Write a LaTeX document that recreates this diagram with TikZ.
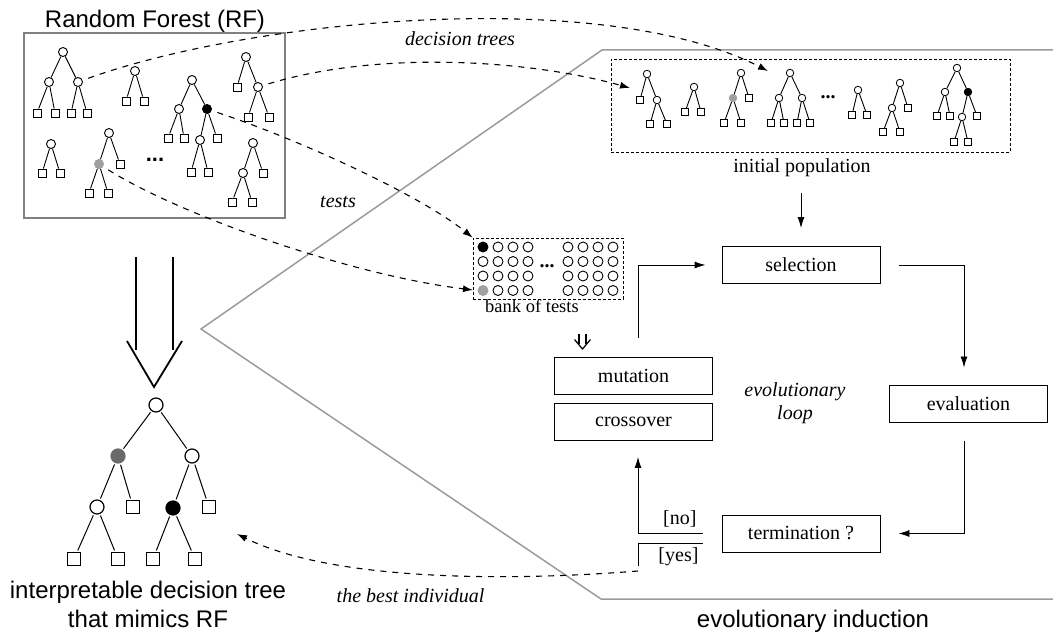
\documentclass[tikz,border=0pt]{standalone}
\usepackage{fontspec}
\setmainfont{Liberation Serif}
\newfontfamily\sansf{Liberation Sans}
\usetikzlibrary{arrows.meta}
\definecolor{lgray}{RGB}{160,160,160}
\definecolor{dgray}{RGB}{105,105,105}
\definecolor{framegray}{RGB}{128,128,128}
\definecolor{polygray}{RGB}{155,155,155}
\begin{document}
\begin{tikzpicture}[x=1pt,y=-1pt,
  rc/.style={circle,draw,fill=white,inner sep=0pt,minimum size=9pt,line width=0.9pt},
  rs/.style={rectangle,draw,fill=white,inner sep=0pt,minimum size=8pt,line width=0.9pt},
  pc/.style={rc,minimum size=7.5pt,line width=0.8pt},
  ps/.style={rs,minimum size=7pt,line width=0.8pt},
  bc/.style={circle,draw,fill=white,inner sep=0pt,minimum size=14pt,line width=1.2pt},
  bs/.style={rectangle,draw,fill=white,inner sep=0pt,minimum size=13pt,line width=1.2pt},
  tk/.style={circle,draw,fill=white,inner sep=0pt,minimum size=10pt,line width=0.9pt},
  tl/.style={line width=0.9pt},
  bl/.style={line width=1pt,shorten <=1.5pt,shorten >=1.5pt},
  box/.style={draw,line width=0.9pt,minimum width=158pt,minimum height=37pt,inner sep=0pt,font=\fontsize{20}{24}\selectfont},
  arr/.style={line width=0.9pt,-{Latex[length=11pt,width=7pt]}},
  dsh/.style={line width=1.1pt,dash pattern=on 6pt off 6pt,-{Latex[length=10pt,width=7pt]}},
  lab/.style={font=\fontsize{20}{24}\selectfont\itshape,anchor=base},
  txt/.style={font=\fontsize{20}{24}\selectfont,anchor=base},
  big/.style={font=\sansf\fontsize{24}{28}\selectfont,anchor=base},
  dbox/.style={draw,dash pattern=on 3pt off 2pt,line width=0.8pt,inner sep=0pt},
  sym/.style={line width=1.2pt},
]
\useasboundingbox (0,0) rectangle (1053,636);

% evolutionary induction region
\draw[polygray,line width=1.5pt] (1053,50) -- (602,50) -- (201,329) -- (601,599) -- (1053,599);

% frames
\node[draw=framegray,line width=1.5pt,minimum width=261pt,minimum height=185pt,inner sep=0pt] (rf) at (154.5,125.5) {};
\node[dbox,minimum width=399pt,minimum height=93pt] (pop) at (810.5,105.5) {};
\node[dbox,minimum width=150pt,minimum height=61pt] (bank) at (548,268.5) {};

% coordinates for free arrow ends
\coordinate (dtA) at (768,71);
\coordinate (dtB) at (630,88);
\coordinate (dtD) at (473,290);
\coordinate (dtE) at (237,534);
\coordinate (yesfoot) at (638,566);
\coordinate (loopst) at (638,338);
\coordinate (popar) at (801,193);

% ---------- Random forest trees ----------
\node[rc] (t1r) at (63,52) {};
\node[rc] (t1a) at (49,82) {};
\node[rc] (t1b) at (78,82) {};
\node[rs] (t1c) at (37,113) {};
\node[rs] (t1d) at (55,113) {};
\node[rs] (t1e) at (71,113) {};
\node[rs] (t1f) at (87,113) {};
\foreach \a/\b in {t1r/t1a,t1r/t1b,t1a/t1c,t1a/t1d,t1b/t1e,t1b/t1f} \draw[tl] (\a) -- (\b);

\node[rc] (t2r) at (135,71) {};
\node[rs] (t2a) at (126,101) {};
\node[rs] (t2b) at (144,101) {};
\foreach \a/\b in {t2r/t2a,t2r/t2b} \draw[tl] (\a) -- (\b);

\node[rc] (t3r) at (192,80) {};
\node[rc] (t3a) at (179,109) {};
\node[rc,fill=black] (t3b) at (207,109) {};
\node[rs] (t3c) at (168,138) {};
\node[rs] (t3d) at (184,138) {};
\node[rc] (t3e) at (200,140) {};
\node[rs] (t3f) at (217,138) {};
\node[rs] (t3g) at (191,172) {};
\node[rs] (t3h) at (208,172) {};
\foreach \a/\b in {t3r/t3a,t3r/t3b,t3a/t3c,t3a/t3d,t3b/t3e,t3b/t3f,t3e/t3g,t3e/t3h} \draw[tl] (\a) -- (\b);

\node[rc] (t4r) at (246,57) {};
\node[rs] (t4a) at (237,87) {};
\node[rc] (t4b) at (258,87) {};
\node[rs] (t4c) at (248,117) {};
\node[rs] (t4d) at (269,117) {};
\foreach \a/\b in {t4r/t4a,t4r/t4b,t4b/t4c,t4b/t4d} \draw[tl] (\a) -- (\b);

\node[rc] (t5r) at (51,144) {};
\node[rs] (t5a) at (42,173) {};
\node[rs] (t5b) at (60,173) {};
\foreach \a/\b in {t5r/t5a,t5r/t5b} \draw[tl] (\a) -- (\b);

\node[rc] (t6r) at (109,133) {};
\node[rc,fill=lgray,draw=lgray] (t6a) at (99,164) {};
\node[rs] (t6b) at (120,164) {};
\node[rs] (t6c) at (89,193) {};
\node[rs] (t6d) at (108,193) {};
\foreach \a/\b in {t6r/t6a,t6r/t6b,t6a/t6c,t6a/t6d} \draw[tl] (\a) -- (\b);

\node[rc] (t7r) at (253,143) {};
\node[rc] (t7a) at (243,173) {};
\node[rs] (t7b) at (263,173) {};
\node[rs] (t7c) at (232,202) {};
\node[rs] (t7d) at (252,202) {};
\foreach \a/\b in {t7r/t7a,t7r/t7b,t7a/t7c,t7a/t7d} \draw[tl] (\a) -- (\b);

\node[font=\sansf\bfseries\fontsize{22}{22}\selectfont,inner sep=0pt] (rfdots) at (155,160) {...};

% ---------- initial population trees ----------
\node[pc] (p1r) at (647,74) {};
\node[ps] (p1a) at (640,100) {};
\node[pc] (p1b) at (657,100) {};
\node[ps] (p1c) at (650,124) {};
\node[ps] (p1d) at (667,124) {};
\foreach \a/\b in {p1r/p1a,p1r/p1b,p1b/p1c,p1b/p1d} \draw[tl] (\a) -- (\b);

\node[pc] (p2r) at (694,87) {};
\node[ps] (p2a) at (685,112) {};
\node[ps] (p2b) at (701,112) {};
\foreach \a/\b in {p2r/p2a,p2r/p2b} \draw[tl] (\a) -- (\b);

\node[pc] (p3r) at (741,73) {};
\node[pc,fill=lgray,draw=lgray] (p3a) at (733,98) {};
\node[ps] (p3b) at (749,98) {};
\node[ps] (p3c) at (724,123) {};
\node[ps] (p3d) at (741,123) {};
\foreach \a/\b in {p3r/p3a,p3r/p3b,p3a/p3c,p3a/p3d} \draw[tl] (\a) -- (\b);

\node[pc] (p4r) at (790,73) {};
\node[pc] (p4a) at (779,98) {};
\node[pc] (p4b) at (802,98) {};
\node[ps] (p4c) at (771,123) {};
\node[ps] (p4d) at (784,123) {};
\node[ps] (p4e) at (797,123) {};
\node[ps] (p4f) at (810,123) {};
\foreach \a/\b in {p4r/p4a,p4r/p4b,p4a/p4c,p4a/p4d,p4b/p4e,p4b/p4f} \draw[tl] (\a) -- (\b);

\node[font=\bfseries\fontsize{20}{20}\selectfont,inner sep=0pt] (popdots) at (828,97) {...};

\node[pc] (p5r) at (858,90) {};
\node[ps] (p5a) at (852,115) {};
\node[ps] (p5b) at (867,115) {};
\foreach \a/\b in {p5r/p5a,p5r/p5b} \draw[tl] (\a) -- (\b);

\node[pc] (p6r) at (900,83) {};
\node[pc] (p6a) at (892,108) {};
\node[ps] (p6b) at (908,108) {};
\node[ps] (p6c) at (883,132) {};
\node[ps] (p6d) at (900,132) {};
\foreach \a/\b in {p6r/p6a,p6r/p6b,p6a/p6c,p6a/p6d} \draw[tl] (\a) -- (\b);

\node[pc] (p7r) at (957,68) {};
\node[pc] (p7a) at (945,92) {};
\node[pc,fill=black] (p7b) at (968,92) {};
\node[ps] (p7c) at (937,116) {};
\node[ps] (p7d) at (950,116) {};
\node[pc] (p7e) at (962,117) {};
\node[ps] (p7f) at (977,116) {};
\node[ps] (p7g) at (954,142) {};
\node[ps] (p7h) at (968,142) {};
\foreach \a/\b in {p7r/p7a,p7r/p7b,p7a/p7c,p7a/p7d,p7b/p7e,p7b/p7f,p7e/p7g,p7e/p7h} \draw[tl] (\a) -- (\b);

% ---------- bank of tests ----------
\foreach \r/\y in {2/261.5,3/276}
  \foreach \c/\x in {1/483,2/498,3/513,4/528,5/568,6/583,7/598,8/613}
    \node[tk] (bk\r\c) at (\x,\y) {};
\foreach \r/\y in {1/247,4/290.5}
  \foreach \c/\x in {2/498,3/513,4/528,5/568,6/583,7/598,8/613}
    \node[tk] (bk\r\c) at (\x,\y) {};
\node[tk,fill=black] (bk11) at (483,247) {};
\node[tk,fill=lgray,draw=lgray] (bk41) at (483,290.5) {};
\node[font=\bfseries\fontsize{20}{20}\selectfont,inner sep=0pt] (bankdots) at (547,266) {...};

% ---------- dashed transfers ----------
\draw[dsh,shorten <=6pt] (t1b) .. controls (250,20) and (600,-15) .. (dtA);
\draw[dsh,shorten <=6pt] (t4b) .. controls (380,50) and (530,60) .. (dtB);
\draw[dsh,shorten <=6pt] (t3b) .. controls (300,140) and (420,195) .. (bank.north west);
\draw[dsh,shorten <=6pt] (t6a) .. controls (180,215) and (350,275) .. (dtD);

% ---------- evolutionary loop ----------
\node[box] (sel) at (801,265) {selection};
\node[box] (mut) at (633.5,375.5) {mutation};
\node[box] (cross) at (633.5,422) {crossover};
\node[box] (eval) at (968.5,403.5) {evaluation};
\node[box] (term) at (801,533.5) {termination ?};

\draw[arr] (popar) -- ([yshift=18pt]sel.north);
\draw[arr] (loopst) |- ([xshift=-16pt]sel.west);
\draw[arr] ([xshift=19pt]sel.east) -| ([xshift=-4.5pt,yshift=17pt]eval.north);
\draw[arr] ([xshift=-4.5pt,yshift=-19pt]eval.south) |- ([xshift=18pt]term.east);
\draw[arr] ([xshift=-19pt]term.west) -| ([xshift=4.5pt,yshift=-16pt]cross.south);
\draw[line width=0.9pt] ([xshift=-19pt,yshift=-10pt]term.west) -| (yesfoot);
\draw[dsh] ([yshift=-5pt]yesfoot) .. controls (500,582) and (330,580) .. (dtE);

% hollow double arrow (bank of tests -> operators)
\draw[sym] (579,334) -- (579,344) (586,334) -- (586,344);
\draw[sym] (574.5,339.5) -- (582.5,349) -- (590.5,339.5);

% ---------- big arrow ----------
\draw[line width=1.8pt] (136,257) -- (136,350) (173,257) -- (173,350);
\draw[line width=1.8pt] (127,341) -- (154,387) -- (182,341);

% ---------- resulting tree ----------
\node[bc] (br) at (156,405) {};
\node[bc,fill=dgray,draw=dgray] (bA) at (118,456) {};
\node[bc] (bB) at (192,456) {};
\node[bc] (bC) at (97,507) {};
\node[bs] (bD) at (133,507) {};
\node[bc,fill=black] (bE) at (173,508) {};
\node[bs] (bF) at (209,507) {};
\node[bs] (bG) at (74,559) {};
\node[bs] (bH) at (118,559) {};
\node[bs] (bI) at (153,559) {};
\node[bs] (bJ) at (195,559) {};
\foreach \a/\b in {br/bA,br/bB,bA/bC,bA/bD,bB/bE,bB/bF,bC/bG,bC/bH,bE/bI,bE/bJ} \draw[bl] (\a) -- (\b);

% ---------- texts ----------
\node[big] (rftitle) at (155,28) {Random Forest (RF)};
\node[txt] (poplab) at (802,173) {initial population};
\node[txt,font=\fontsize{18.5}{22}\selectfont] (banklab) at (532,313) {bank of tests};
\node[lab] (evo1) at (795,397) {evolutionary};
\node[lab] (evo2) at (795,420) {loop};
\node[lab] (dtlab) at (460,46) {decision trees};
\node[lab] (testlab) at (338,208) {tests};
\node[lab,anchor=base east] (bestlab) at (488,602) {the best individual};
\node[txt,anchor=base east] (nolab) at (700,524) {[no]};
\node[txt,anchor=base east] (yeslab) at (702,561) {[yes]};
\node[big] (res1) at (148,598) {interpretable decision tree};
\node[big] (res2) at (148,627) {that mimics RF};
\node[big] (evolab) at (813,627) {evolutionary induction};
\end{tikzpicture}
\end{document}
